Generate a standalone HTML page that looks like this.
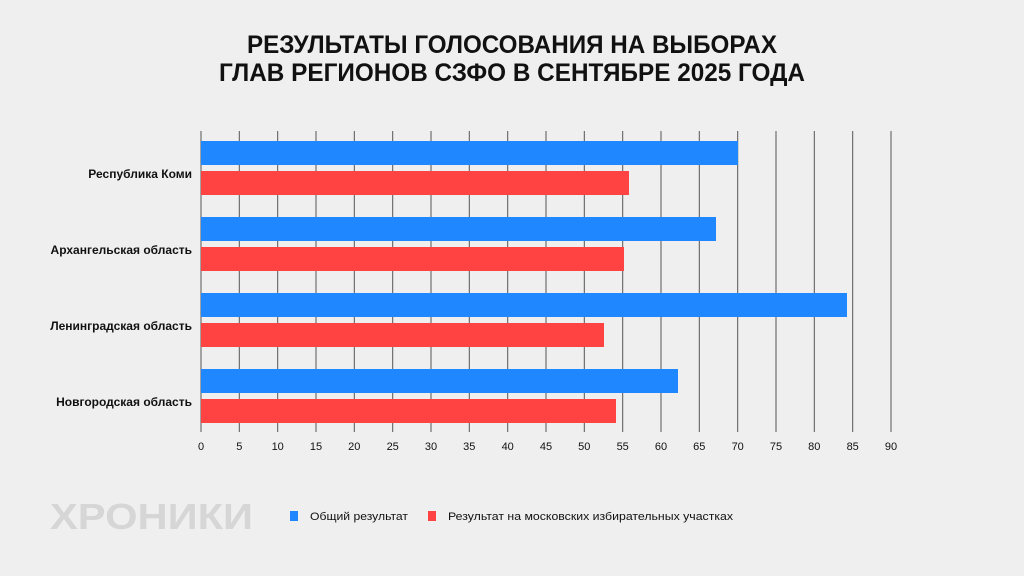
<!DOCTYPE html>
<html><head><meta charset="utf-8"><style>
html,body{margin:0;padding:0;background:#efefef;}
svg{display:block;font-family:"Liberation Sans","Noto Sans CJK SC",sans-serif;}
</style></head><body>
<svg width="1024" height="576" viewBox="0 0 1024 576">
<rect width="1024" height="576" fill="#efefef"/>
<text x="512" y="53" text-anchor="middle" font-size="25" font-weight="bold" fill="#111" textLength="530" lengthAdjust="spacingAndGlyphs">РЕЗУЛЬТАТЫ ГОЛОСОВАНИЯ НА ВЫБОРАХ</text>
<text x="512" y="81" text-anchor="middle" font-size="25" font-weight="bold" fill="#111" textLength="586" lengthAdjust="spacingAndGlyphs">ГЛАВ РЕГИОНОВ СЗФО В СЕНТЯБРЕ 2025 ГОДА</text>
<g stroke="#555" stroke-width="1">
<line x1="201" y1="131" x2="201" y2="432"/><line x1="239.3" y1="131" x2="239.3" y2="432"/><line x1="277.7" y1="131" x2="277.7" y2="432"/><line x1="316" y1="131" x2="316" y2="432"/><line x1="354.3" y1="131" x2="354.3" y2="432"/><line x1="392.7" y1="131" x2="392.7" y2="432"/><line x1="431" y1="131" x2="431" y2="432"/><line x1="469.3" y1="131" x2="469.3" y2="432"/><line x1="507.7" y1="131" x2="507.7" y2="432"/><line x1="546" y1="131" x2="546" y2="432"/><line x1="584.3" y1="131" x2="584.3" y2="432"/><line x1="622.7" y1="131" x2="622.7" y2="432"/><line x1="661" y1="131" x2="661" y2="432"/><line x1="699.3" y1="131" x2="699.3" y2="432"/><line x1="737.7" y1="131" x2="737.7" y2="432"/><line x1="776" y1="131" x2="776" y2="432"/><line x1="814.3" y1="131" x2="814.3" y2="432"/><line x1="852.7" y1="131" x2="852.7" y2="432"/><line x1="891" y1="131" x2="891" y2="432"/>
</g>
<g fill="#1f87ff">
<rect x="201" y="141" width="537" height="24"/>
<rect x="201" y="217" width="515" height="24"/>
<rect x="201" y="293" width="646" height="24"/>
<rect x="201" y="369" width="477" height="24"/>
</g>
<g fill="#ff4242">
<rect x="201" y="171" width="428" height="24"/>
<rect x="201" y="247" width="423" height="24"/>
<rect x="201" y="323" width="403" height="24"/>
<rect x="201" y="399" width="415" height="24"/>
</g>
<g font-size="12" font-weight="bold" fill="#111" text-anchor="end">
<text x="192" y="178">Республика Коми</text>
<text x="192" y="254">Архангельская область</text>
<text x="192" y="330">Ленинградская область</text>
<text x="192" y="406">Новгородская область</text>
</g>
<g font-size="11" fill="#111" text-anchor="middle">
<text x="201" y="450">0</text><text x="239.3" y="450">5</text><text x="277.7" y="450">10</text><text x="316" y="450">15</text><text x="354.3" y="450">20</text><text x="392.7" y="450">25</text><text x="431" y="450">30</text><text x="469.3" y="450">35</text><text x="507.7" y="450">40</text><text x="546" y="450">45</text><text x="584.3" y="450">50</text><text x="622.7" y="450">55</text><text x="661" y="450">60</text><text x="699.3" y="450">65</text><text x="737.7" y="450">70</text><text x="776" y="450">75</text><text x="814.3" y="450">80</text><text x="852.7" y="450">85</text><text x="891" y="450">90</text>
</g>
<text x="50" y="529" font-size="36" font-weight="bold" fill="#d6d6d6" textLength="203" lengthAdjust="spacingAndGlyphs">ХРОНИКИ</text>
<rect x="290" y="511" width="8" height="10" fill="#1f87ff"/>
<text x="310" y="520" font-size="11" fill="#111" textLength="98" lengthAdjust="spacingAndGlyphs">Общий результат</text>
<rect x="428" y="511" width="8" height="10" fill="#ff4242"/>
<text x="448" y="520" font-size="11" fill="#111" textLength="285" lengthAdjust="spacingAndGlyphs">Результат на московских избирательных участках</text>
</svg>
</body></html>
